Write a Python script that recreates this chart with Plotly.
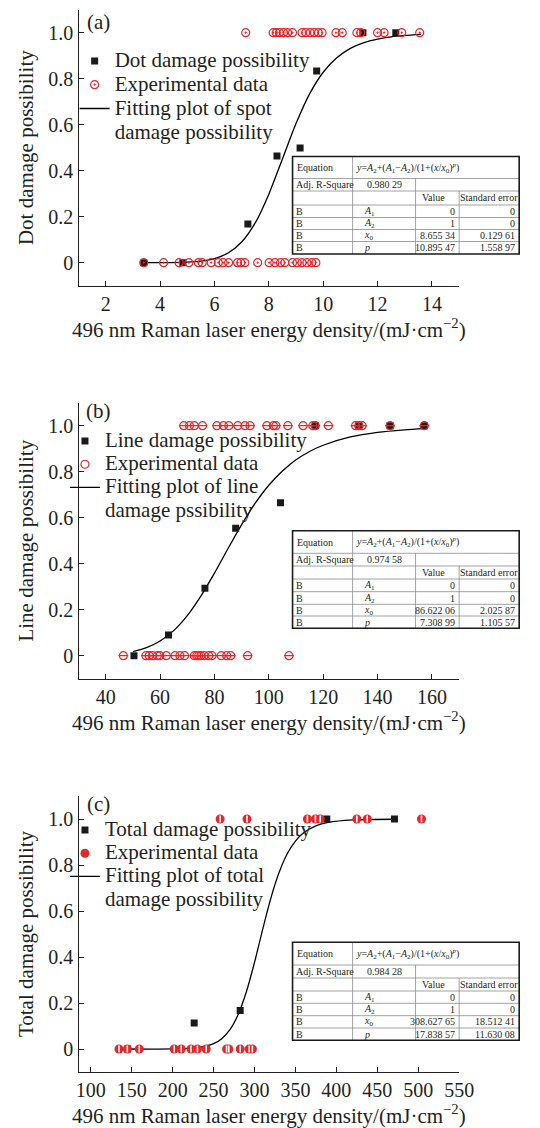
import plotly.graph_objects as go

SERIF = "Liberation Serif"
INK = "#231f20"
RED = "#e5262b"

# ---------------- Panel (a) ----------------
a_sq_x = [3.4, 4.84, 7.23, 8.30, 9.15, 9.76, 11.46, 12.67]
a_sq_y = [0, 0, 0.168, 0.464, 0.499, 0.833, 1.0, 1.0]
a_exp_x = [3.40, 4.13, 4.70, 5.06, 5.41, 5.55, 5.88, 6.14, 6.32, 6.52, 6.85, 6.97, 7.12, 7.59,
           8.01, 8.22, 8.43, 8.59, 8.87, 9.04, 9.22, 9.40, 9.58, 9.73,
           7.15, 8.16, 8.27, 8.39, 8.54, 8.69, 8.87, 9.22, 9.36, 9.52, 9.67, 9.82, 9.96,
           10.47, 10.70, 11.24, 11.38, 12.00, 12.24, 12.89, 13.55]
a_exp_y = [0, 0, 0, 0, 0, 0, 0, 0, 0, 0, 0, 0, 0, 0,
           0, 0, 0, 0, 0, 0, 0, 0, 0, 0,
           1, 1, 1, 1, 1, 1, 1, 1, 1, 1, 1, 1, 1,
           1, 1, 1, 1, 1, 1, 1, 1]
a_fit_x = [3.4, 4, 5, 5.5, 6, 6.5, 7, 7.5, 8, 8.5, 9, 9.5, 10, 10.5, 11, 11.5, 12, 12.5, 13, 13.6]
a_fit_y = [0, 0.0002, 0.0025, 0.007, 0.018, 0.042, 0.09, 0.173, 0.298, 0.451, 0.605, 0.734,
           0.828, 0.891, 0.932, 0.957, 0.972, 0.982, 0.988, 0.993]
a_xticks = [2, 4, 6, 8, 10, 12, 14]
a_adj = "0.980 29"
a_values = ["0", "1", "8.655 34", "10.895 47"]
a_errors = ["0", "0", "0.129 61", "1.558 97"]

# ---------------- Panel (b) ----------------
b_sq_x = [50.4, 63.1, 76.5, 87.8, 104.3, 117.1, 133.1, 144.6, 157.2]
b_sq_y = [0, 0.09, 0.293, 0.554, 0.665, 1, 1, 1, 1]
b_exp_x = [46.5, 54.8, 56.0, 57.2, 59.0, 59.9, 62.3, 65.5, 67.3, 69.0, 72.6, 73.5, 74.2, 75.0,
           76.2, 77.9, 79.1, 82.5, 84.5, 86.0, 92.2, 107.4,
           68.7, 70.8, 72.6, 75.6, 80.9, 83.3, 85.3, 88.6, 91.2, 93.1, 99.3, 101.7, 102.6,
           107.0, 112.6, 116.2, 117.1, 121.9, 131.9, 133.1, 134.3, 144.6, 157.2]
b_exp_y = [0, 0, 0, 0, 0, 0, 0, 0, 0, 0, 0, 0, 0, 0,
           0, 0, 0, 0, 0, 0, 0, 0,
           1, 1, 1, 1, 1, 1, 1, 1, 1, 1, 1, 1, 1,
           1, 1, 1, 1, 1, 1, 1, 1, 1, 1]
b_fit_x = [50, 55, 60, 65, 70, 75, 80, 85, 90, 95, 100, 105, 110, 115, 120, 130, 140, 150, 157]
b_fit_y = [0.018, 0.035, 0.064, 0.109, 0.174, 0.259, 0.359, 0.466, 0.570, 0.663, 0.741, 0.803,
           0.852, 0.888, 0.915, 0.951, 0.971, 0.982, 0.987]
b_xticks = [40, 60, 80, 100, 120, 140, 160]
b_adj = "0.974 58"
b_values = ["0", "1", "86.622 06", "7.308 99"]
b_errors = ["0", "0", "2.025 87", "1.105 57"]

# ---------------- Panel (c) ----------------
c_sq_x = [145, 226.3, 282.5, 388.3, 471.0]
c_sq_y = [0, 0.113, 0.167, 1, 1]
c_exp_x = [134.4, 144.6, 159.2, 201.9, 210.5, 222.4, 230.3, 241.0, 265.9, 268.6, 282.5, 293.5, 297.4,
           258.0, 290.8, 364.6, 374.4, 380.3, 425.0, 437.7, 504.0]
c_exp_y = [0, 0, 0, 0, 0, 0, 0, 0, 0, 0, 0, 0, 0,
           1, 1, 1, 1, 1, 1, 1, 1]
c_fit_x = [145, 200, 230, 250, 260, 270, 280, 290, 300, 310, 320, 330, 340, 350, 360, 375, 390, 420, 470]
c_fit_y = [0, 0.0004, 0.005, 0.023, 0.045, 0.084, 0.150, 0.248, 0.376, 0.520, 0.656, 0.767,
           0.849, 0.904, 0.940, 0.970, 0.985, 0.996, 0.999]
c_xticks = [100, 150, 200, 250, 300, 350, 400, 450, 500, 550]
c_adj = "0.984 28"
c_values = ["0", "1", "308.627 65", "17.838 57"]
c_errors = ["0", "0", "18.512 41", "11.630 08"]

y_tickvals = [0, 0.2, 0.4, 0.6, 0.8, 1.0]
y_ticktext = ["0", "0.2", "0.4", "0.6", "0.8", "1.0"]
param_labels = ["<i>A</i><sub>1</sub>", "<i>A</i><sub>2</sub>", "<i>x</i><sub>0</sub>", "<i>p</i>"]
equation = "<i>y</i>=<i>A</i><sub>2</sub>+(<i>A</i><sub>1</sub>\u2212<i>A</i><sub>2</sub>)/(1+(<i>x</i>/<i>x</i><sub>0</sub>)<sup><i>p</i></sup>)"
xtitle = "496 nm Raman laser energy density/(mJ\u00b7cm<sup>\u22122</sup>)"

W, H = 540, 1128


def px(x):
    return x / W


def py(y):
    return 1 - y / H


def big(t):
    return "<span style='font-size:21px'>%s</span>" % t


fig = go.Figure()

panels = [
    dict(ax="", leg="legend", sq=(a_sq_x, a_sq_y), exp=(a_exp_x, a_exp_y), fit=(a_fit_x, a_fit_y),
         names=["Dot damage possibility", "Experimental data", "Fitting plot of spot", "damage possibility"],
         style="a"),
    dict(ax="2", leg="legend2", sq=(b_sq_x, b_sq_y), exp=(b_exp_x, b_exp_y), fit=(b_fit_x, b_fit_y),
         names=["Line damage possibility", "Experimental data", "Fitting plot of line", "damage pssibility"],
         style="b"),
    dict(ax="3", leg="legend3", sq=(c_sq_x, c_sq_y), exp=(c_exp_x, c_exp_y), fit=(c_fit_x, c_fit_y),
         names=["Total damage possibility", "Experimental data", "Fitting plot of total", "damage possibility"],
         style="c"),
]

for p in panels:
    xa, ya = "x" + p["ax"], "y" + p["ax"]
    fig.add_trace(go.Scatter(x=p["fit"][0], y=p["fit"][1], mode="lines", xaxis=xa, yaxis=ya,
                             line=dict(color="black", width=1.3, shape="spline", smoothing=0.8),
                             name=big(p["names"][2]), legend=p["leg"], legendrank=3))
    # second line of the fit legend label (no symbol)
    fig.add_trace(go.Scatter(x=[None], y=[None], mode="lines", xaxis=xa, yaxis=ya,
                             line=dict(color="rgba(0,0,0,0)", width=0),
                             name=big(p["names"][3]), legend=p["leg"], legendrank=4, hoverinfo="skip"))
    fig.add_trace(go.Scatter(x=p["sq"][0], y=p["sq"][1], mode="markers", xaxis=xa, yaxis=ya,
                             marker=dict(symbol="square", size=7, color="#1a1a1a"),
                             name=big(p["names"][0]), legend=p["leg"], legendrank=1))
    if p["style"] == "a":
        mk = dict(symbol="circle-open-dot", size=8, color=RED, line=dict(width=1.2, color=RED))
    elif p["style"] == "b":
        mk = dict(symbol="circle-open", size=8, color=RED, line=dict(width=1.2, color=RED))
    else:
        mk = dict(symbol="circle", size=9, color=RED, line=dict(width=0))
    fig.add_trace(go.Scatter(x=p["exp"][0], y=p["exp"][1], mode="markers", xaxis=xa, yaxis=ya,
                             marker=mk, name=big(p["names"][1]), legend=p["leg"], legendrank=2))
    if p["style"] == "b":
        fig.add_trace(go.Scatter(x=p["exp"][0], y=p["exp"][1], mode="markers", xaxis=xa, yaxis=ya,
                                 marker=dict(symbol="line-ew", size=7, color=RED,
                                             line=dict(width=1.2, color=RED)),
                                 showlegend=False, hoverinfo="skip"))
    if p["style"] == "c":
        fig.add_trace(go.Scatter(x=p["exp"][0], y=p["exp"][1], mode="markers", xaxis=xa, yaxis=ya,
                                 marker=dict(symbol="line-ns", size=5, color="white",
                                             line=dict(width=1.6, color="white")),
                                 showlegend=False, hoverinfo="skip"))

axis_common = dict(showline=True, linecolor=INK, linewidth=1.3, ticks="inside", ticklen=5,
                   tickwidth=1.2, tickcolor=INK, showgrid=False, zeroline=False,
                   tickfont=dict(family=SERIF, size=20, color=INK),
                   title_font=dict(family=SERIF, size=21, color=INK))

xdom = [px(79), px(472)]
ydoms = [[py(285.7), py(9.7)], [py(678.7), py(402.7)], [py(1072), py(796)]]
xranges = [[1, 15], [30, 170], [85, 550]]
yranges = [[-0.1, 1.1], [-0.1, 1.1], [-0.1, 1.1]]
xticks = [a_xticks, b_xticks, c_xticks]
ytitles = ["Dot damage possibility", "Line damage possibility", "Total damage possibility"]

layout = dict(width=W, height=H, margin=dict(l=0, r=0, t=0, b=0),
              paper_bgcolor="white", plot_bgcolor="white", showlegend=True)
for i, sfx in enumerate(["", "2", "3"]):
    layout["xaxis" + sfx] = dict(axis_common, domain=xdom, range=xranges[i], tickvals=xticks[i],
                                 anchor="y" + sfx, title=dict(text=xtitle, standoff=5))
    layout["yaxis" + sfx] = dict(axis_common, domain=ydoms[i], range=yranges[i],
                                 tickvals=y_tickvals, ticktext=y_ticktext, anchor="x" + sfx,
                                 title=dict(text=ytitles[i], standoff=9))
fig.update_layout(**layout)

leg_common = dict(xanchor="left", yanchor="top", bgcolor="rgba(0,0,0,0)", itemwidth=30,
                  tracegroupgap=0, borderwidth=0)
fig.update_layout(
    legend=dict(leg_common, x=px(75), y=py(44), font=dict(family=SERIF, size=16, color=INK)),
    legend2=dict(leg_common, x=px(65), y=py(424.5), font=dict(family=SERIF, size=15.5, color=INK)),
    legend3=dict(leg_common, x=px(65), y=py(813.5), font=dict(family=SERIF, size=15.5, color=INK)),
)

# panel labels
for lbl, (lx, ly) in zip(["(a)", "(b)", "(c)"], [(100, 22), (100, 411), (100, 804)]):
    fig.add_annotation(text=lbl, x=px(lx), y=py(ly), xref="paper", yref="paper", showarrow=False,
                       xanchor="center", yanchor="middle", font=dict(family=SERIF, size=21, color=INK))

# fit tables
cols = [300, 362, 427, 472, 534]
table_rows = [
    [156.5, 178.5, 191, 205, 217.5, 229.5, 241.5, 254],
    [530.7, 553.3, 566, 579, 591.7, 604.3, 616, 628.3],
    [942.3, 965, 978, 991, 1003.3, 1015.7, 1028, 1040.3],
]
adjs = [a_adj, b_adj, c_adj]
vals = [a_values, b_values, c_values]
errs = [a_errors, b_errors, c_errors]
TF = dict(family=SERIF, size=10, color=INK)
GRAY = "#8a8a8a"


def hline(x0, x1, y, color=GRAY, w=0.8):
    fig.add_shape(type="line", xref="paper", yref="paper", x0=px(x0), x1=px(x1), y0=py(y), y1=py(y),
                  line=dict(color=color, width=w), layer="above")


def vline(x, y0, y1, color=GRAY, w=0.8):
    fig.add_shape(type="line", xref="paper", yref="paper", x0=px(x), x1=px(x), y0=py(y0), y1=py(y1),
                  line=dict(color=color, width=w), layer="above")


def txt(t, x, y, anchor):
    fig.add_annotation(text=t, x=px(x), y=py(y), xref="paper", yref="paper", showarrow=False,
                       xanchor=anchor, yanchor="middle", font=TF)


for k in range(3):
    r = table_rows[k]
    fig.add_shape(type="rect", xref="paper", yref="paper", x0=px(cols[0]), x1=px(cols[-1]),
                  y0=py(r[-1]), y1=py(r[0]), fillcolor="white", line=dict(width=0), layer="above")
    for yy in r[1:-1]:
        hline(cols[0], cols[-1], yy)
    vline(cols[1], r[0], r[-1])
    vline(cols[2], r[1], r[-1])
    vline(cols[3], r[2], r[-1])
    fig.add_shape(type="rect", xref="paper", yref="paper", x0=px(cols[0]), x1=px(cols[-1]),
                  y0=py(r[-1]), y1=py(r[0]), line=dict(color="#1a1a1a", width=1.6), layer="above")
    mid = lambda i: (r[i] + r[i + 1]) / 2
    txt("Equation", cols[0] + 3, mid(0), "left")
    txt(equation, cols[1] + 1, mid(0), "left")
    txt("Adj. R-Square", cols[0] + 2, mid(1), "left")
    txt(adjs[k], (cols[1] + cols[2]) / 2, mid(1), "center")
    txt("Value", (cols[2] + cols[3]) / 2 - 4, mid(2), "center")
    txt("Standard error", (cols[3] + cols[4]) / 2, mid(2), "center")
    for j in range(4):
        txt("B", cols[0] + 2, mid(3 + j), "left")
        txt(param_labels[j], cols[1] + 10, mid(3 + j), "left")
        txt(vals[k][j], cols[3] - 2, mid(3 + j), "right")
        txt(errs[k][j], cols[4] - 2, mid(3 + j), "right")

fig.write_html("out.html", config={"displayModeBar": False},
               post_script="document.body.style.margin='0px';")
